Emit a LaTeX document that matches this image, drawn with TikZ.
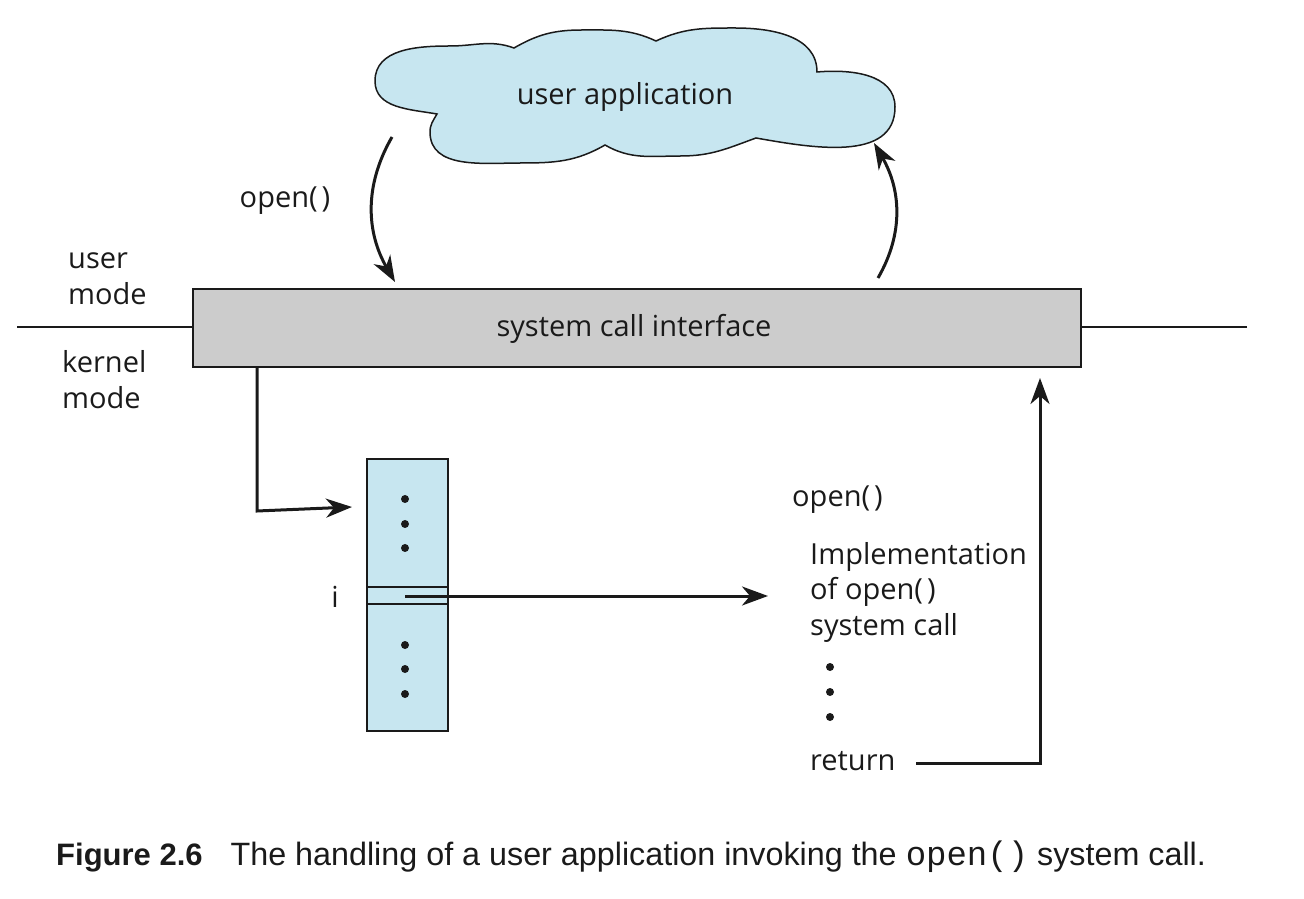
\documentclass[tikz,border=0pt]{standalone}
\usepackage{fontspec}
\setmainfont{Open Sans}
\newfontfamily\capfont{Liberation Sans}
\newfontfamily\capmono{Liberation Mono}
\usetikzlibrary{arrows.meta}
\definecolor{lightblue}{RGB}{199,230,240}
\definecolor{boxgray}{RGB}{204,204,204}
\definecolor{ink}{RGB}{26,26,26}
\begin{document}
\begin{tikzpicture}[x=1pt,y=1pt,
  lbl/.style={font=\fontsize{29}{36}\selectfont, inner sep=0pt, text=ink},
  arr/.style={draw=ink, line width=3pt, -{Stealth[length=26pt,width=19pt,inset=8pt]}},
  edge/.style={draw=ink, line width=1.5pt},
  dotmark/.style={circle, fill=ink, inner sep=0pt, minimum size=8pt}]
\useasboundingbox (0,0) rectangle (1304,898);
% cloud
\path[edge, fill=lightblue]
  (437,784) to[out=170,in=270] (375,817) to[out=90,in=180] (450,852)
  to[out=0,in=160] (514,850) to[out=30,in=180] (582,868)
  to[out=0,in=155] (656,857) to[out=25,in=180] (735,870)
  to[out=0,in=90] (817,826) to[out=5,in=90] (895,791)
  to[out=270,in=-10] (756,760) to[out=200,in=0] (681,742)
  to[out=180,in=-30] (605,753) to[out=210,in=0] (521,735)
  to[out=180,in=270] (430,766) to[out=90,in=240] cycle;
\node[lbl] (ua) at (625,801) {user application};
% system call interface
\node[edge, fill=boxgray, minimum width=888pt, minimum height=78pt, inner sep=0pt] (sci) at (637,570) {};
\node[lbl] (scit) at (634,569) {system call interface};
\coordinate (ll) at (17,571);
\coordinate (rr) at (1247,571);
\draw[edge] (ll) -- (ll -| sci.west);
\draw[edge] (rr) -- (rr -| sci.east);
\node[lbl, anchor=west, align=left] (um) at (68,619) {user\\mode};
\node[lbl, anchor=west, align=left] (km) at (62,518) {kernel\\mode};
% upper arrows
\node[lbl] (op1) at (285,697) {open(\hspace{4pt})};
\coordinate (a1s) at (392,761);
\coordinate (a1e) at (395,616);
\draw[arr] (a1s) to[out=240,in=120] (a1e);
\coordinate (a2s) at (878,620);
\coordinate (a2e) at (874,755);
\draw[arr] (a2s) to[out=60,in=300] (a2e);
% table
\node[edge, fill=lightblue, minimum width=81pt, minimum height=272pt, inner sep=0pt] (tbl) at (407.5,303) {};
\coordinate (d1) at (0,311);
\coordinate (d2) at (0,294);
\draw[edge] (d1 -| tbl.west) -- (d1 -| tbl.east);
\draw[edge] (d2 -| tbl.west) -- (d2 -| tbl.east);
\foreach \yy [count=\k] in {399,374,350,253,229,204} \node[dotmark] (td\k) at (405,\yy) {};
\node[lbl] (iidx) at (335,301) {i};
% elbow arrow
\coordinate (e0) at (257,531);
\coordinate (e1) at (257,387);
\coordinate (e2) at (352,391);
\draw[arr] (e0) -- (e1) -- (e2);
% i arrow
\coordinate (ia) at (405,302);
\coordinate (ib) at (768,302);
\draw[arr] (ia) -- (ib);
% implementation text
\node[lbl, anchor=west] (op2) at (792,398) {open(\hspace{4pt})};
\node[lbl, anchor=west] (im1) at (810,341) {Implementation};
\node[lbl, anchor=west] (im2) at (810,306) {of open(\hspace{4pt})};
\node[lbl, anchor=west] (im3) at (810,270) {system call};
\foreach \yy [count=\k] in {231,206,181} \node[dotmark] (rd\k) at (830,\yy) {};
\node[lbl, anchor=west] (ret) at (810,137) {return};
\coordinate (r0) at (916,135);
\coordinate (r1) at (1040,135);
\coordinate (r2) at (1040,520);
\draw[arr] (r0) -- (r1) -- (r2);
% caption
\node[anchor=west, inner sep=0pt, text=ink, font=\fontsize{31}{36}\selectfont] (cap) at (56,41)
  {{\capfont\bfseries Figure 2.6}\hspace{28pt}{\capfont\fontsize{32.3}{36}\selectfont The handling of a user application invoking the }{\capmono\fontsize{34}{36}\selectfont open()}{\capfont\fontsize{32.3}{36}\selectfont{} system call.}};
\end{tikzpicture}
\end{document}
